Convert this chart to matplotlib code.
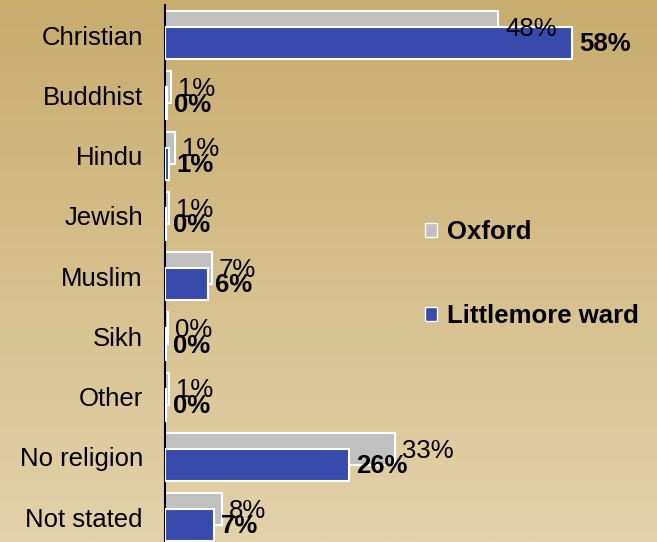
import matplotlib
matplotlib.use("Agg")
import matplotlib.pyplot as plt
import numpy as np
from matplotlib.patches import Patch
from matplotlib.colors import LinearSegmentedColormap

plt.rcParams['font.family'] = ['Liberation Sans', 'DejaVu Sans']

categories = ["Christian", "Buddhist", "Hindu", "Jewish", "Muslim", "Sikh",
              "Other", "No religion", "Not stated"]
oxford = [47.6, 0.9, 1.4, 0.5, 6.7, 0.4, 0.5, 32.9, 8.1]
littlemore = [58.1, 0.3, 0.6, 0.2, 6.1, 0.1, 0.2, 26.3, 7.0]
oxford_labels = ["48%", "1%", "1%", "1%", "7%", "0%", "1%", "33%", "8%"]
littlemore_labels = ["58%", "0%", "1%", "0%", "6%", "0%", "0%", "26%", "7%"]
series_names = ["Oxford", "Littlemore ward"]

W, H = 657, 542
fig = plt.figure(figsize=(W / 100, H / 100), dpi=100)

# gradient background
bg = fig.add_axes([0, 0, 1, 1], zorder=-10)
cmap = LinearSegmentedColormap.from_list("bg", ["#C8AC6E", "#E3D2AA"])
grad = np.linspace(0, 1, 256).reshape(-1, 1)
bg.imshow(grad, aspect="auto", cmap=cmap, extent=[0, 1, 0, 1], origin="upper")
bg.axis("off")

cat_px = 60.25
ax_h = 9 * cat_px
top = 5
ax = fig.add_axes([165 / W, (H - top - ax_h) / H, 490 / W, ax_h / H])
ax.patch.set_alpha(0)

y = np.arange(len(categories))
off = 8 / cat_px
bh = 32 / cat_px
ax.barh(y - off, oxford, height=bh, color="#C0C0C0", edgecolor="white", linewidth=1.5, zorder=2)
ax.barh(y + off, littlemore, height=bh, color="#384BAD", edgecolor="white", linewidth=1.5, zorder=3)

pad = 1.0
fs = 18.5
for i in range(len(categories)):
    ax.text(oxford[i] + pad, y[i] - off + 0.03, oxford_labels[i], fontsize=fs,
            va="center", ha="left", zorder=4)
    ax.text(littlemore[i] + pad, y[i] + off + 0.02, littlemore_labels[i], fontsize=fs,
            fontweight="bold", va="center", ha="left", zorder=5)

ax.set_xlim(0, 70)
ax.set_ylim(len(categories) - 0.5, -0.5)
ax.set_yticks(y)
ax.set_yticklabels(categories, fontsize=fs)
ax.tick_params(axis="y", length=0, pad=16)
ax.set_xticks([])
for s in ["top", "right", "bottom"]:
    ax.spines[s].set_visible(False)
ax.spines["left"].set_linewidth(1.5)
ax.spines["left"].set_color("black")

handles = [Patch(facecolor="#C0C0C0", edgecolor="white", linewidth=1),
           Patch(facecolor="#384BAD", edgecolor="white", linewidth=1)]
leg = fig.legend(handles, series_names, loc="upper left",
                 bbox_to_anchor=(425 / W, 1 - 220 / H), frameon=False,
                 prop={"weight": "bold", "size": fs}, handlelength=0.47,
                 handleheight=0.47, handletextpad=0.38, labelspacing=2.35,
                 borderpad=0, borderaxespad=0)

fig.savefig("out.png", dpi=100)
